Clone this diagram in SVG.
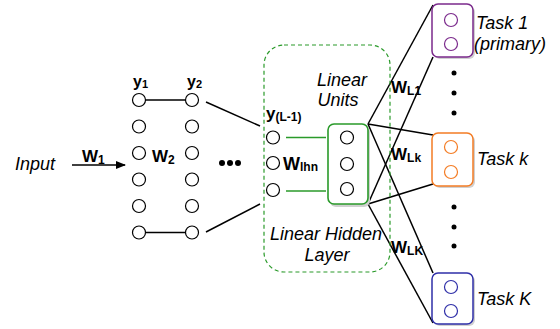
<svg xmlns="http://www.w3.org/2000/svg" width="560" height="329" viewBox="0 0 560 329">
<defs>
<style>
.n{fill:#fff;stroke:#000;stroke-width:1.2}
.c{stroke:#000;stroke-width:1.5;fill:none}
.g{stroke:#2a9a2a;stroke-width:1.6;fill:none}
.lab{font-family:"Liberation Sans",Arial,sans-serif;font-style:italic;font-size:18px;fill:#000}
.b{font-family:"Liberation Sans",Arial,sans-serif;font-weight:bold;fill:#000}
.sh{fill:#d0d0d0}
.dot{fill:#000}
</style>
<marker id="ah" markerWidth="10" markerHeight="8" refX="9" refY="4" orient="auto" markerUnits="userSpaceOnUse">
<path d="M0,0 L10,4 L0,8 Z" fill="#000"/>
</marker>
</defs>
<rect width="560" height="329" fill="#fff"/>

<g id="connectors">
<line class="c" x1="72" y1="165" x2="125" y2="165" marker-end="url(#ah)"/>
<line class="c" x1="146" y1="100" x2="185" y2="100"/>
<line class="c" x1="146" y1="232.5" x2="185" y2="232.5"/>
<line class="c" x1="206" y1="102" x2="260" y2="126"/>
<line class="c" x1="206" y1="232" x2="260" y2="204"/>
<line class="g" x1="286" y1="137.5" x2="326" y2="137.5"/>
<line class="g" x1="286" y1="191" x2="326" y2="191"/>
<line class="c" x1="368" y1="124" x2="433" y2="5"/>
<line class="c" x1="368" y1="124" x2="433" y2="135"/>
<line class="c" x1="368" y1="124" x2="433" y2="273"/>
<line class="c" x1="368" y1="204" x2="433" y2="57"/>
<line class="c" x1="368" y1="204" x2="433" y2="184"/>
<line class="c" x1="368" y1="204" x2="433" y2="323"/>
</g>

<g id="input">
<text class="lab" x="15" y="170">Input</text>
<text class="b" x="82" y="162" font-size="17">W<tspan font-size="12" dy="2">1</tspan></text>
</g>

<g id="layer1">
<text class="b" x="133" y="87" font-size="16">y<tspan font-size="11" dy="1">1</tspan></text>
<circle class="n" cx="139" cy="100" r="6.5"/>
<circle class="n" cx="139" cy="126.5" r="6.5"/>
<circle class="n" cx="139" cy="153" r="6.5"/>
<circle class="n" cx="139" cy="179.5" r="6.5"/>
<circle class="n" cx="139" cy="206" r="6.5"/>
<circle class="n" cx="139" cy="232.5" r="6.5"/>
<text class="b" x="152" y="162" font-size="17">W<tspan font-size="12" dy="2">2</tspan></text>
</g>

<g id="layer2">
<text class="b" x="187" y="87" font-size="16">y<tspan font-size="11" dy="1">2</tspan></text>
<circle class="n" cx="192" cy="100" r="6.5"/>
<circle class="n" cx="192" cy="126.5" r="6.5"/>
<circle class="n" cx="192" cy="153" r="6.5"/>
<circle class="n" cx="192" cy="179.5" r="6.5"/>
<circle class="n" cx="192" cy="206" r="6.5"/>
<circle class="n" cx="192" cy="232.5" r="6.5"/>
<circle class="dot" cx="222" cy="163" r="3"/>
<circle class="dot" cx="230" cy="163" r="3"/>
<circle class="dot" cx="238" cy="163" r="3"/>
</g>

<g id="hidden-layer">
<rect x="264" y="45" width="126" height="227" rx="20" fill="none" stroke="#2a9a2a" stroke-width="1.2" stroke-dasharray="4,3"/>
<text class="lab" x="342" y="86" text-anchor="middle">Linear</text>
<text class="lab" x="338" y="106" text-anchor="middle">Units</text>
<text class="b" x="266" y="119" font-size="17">y<tspan font-size="12" dy="2">(L-1)</tspan></text>
<circle class="n" cx="273" cy="137.5" r="6.5"/>
<circle class="n" cx="273" cy="163" r="6.5"/>
<circle class="n" cx="273" cy="190" r="6.5"/>
<text class="b" x="283" y="170" font-size="18">W<tspan font-size="12" dy="1">lhn</tspan></text>
<text class="lab" x="326" y="240" text-anchor="middle" font-size="17.5">Linear Hidden</text>
<text class="lab" x="327" y="261" text-anchor="middle">Layer</text>
</g>

<g id="linear-units">
<rect class="sh" x="330" y="126" width="40" height="81" rx="6"/>
<rect x="328" y="124" width="40" height="80" rx="6" fill="#fff" stroke="#2a9a2a" stroke-width="1.6"/>
<circle class="n" cx="347" cy="137.5" r="6.5"/>
<circle class="n" cx="347" cy="164" r="6.5"/>
<circle class="n" cx="347" cy="189" r="6.5"/>
</g>

<g id="weights">
<text class="b" x="391" y="93" font-size="17">W<tspan font-size="12" dy="2">L1</tspan></text>
<text class="b" x="391" y="160" font-size="17">W<tspan font-size="12" dy="2">Lk</tspan></text>
<text class="b" x="391" y="253" font-size="17">W<tspan font-size="12" dy="2">LK</tspan></text>
</g>

<g id="task1">
<rect class="sh" x="434" y="6" width="41" height="53" rx="6"/>
<rect x="432" y="4" width="41" height="53" rx="6" fill="#fff" stroke="#7b2a8c" stroke-width="1.5"/>
<circle cx="451" cy="20" r="6.5" fill="#fff" stroke="#7b2a8c" stroke-width="1.2"/>
<circle cx="451" cy="44" r="6.5" fill="#fff" stroke="#7b2a8c" stroke-width="1.2"/>
<text class="lab" x="476" y="29">Task 1</text>
<text class="lab" x="474" y="50">(primary)</text>
</g>

<g id="dots-upper">
<circle class="dot" cx="454" cy="73" r="2.5"/>
<circle class="dot" cx="454" cy="93" r="2.5"/>
<circle class="dot" cx="454" cy="113" r="2.5"/>
</g>

<g id="taskk">
<rect class="sh" x="434" y="135" width="41" height="53" rx="6"/>
<rect x="432" y="133" width="41" height="53" rx="6" fill="#fff" stroke="#f47c24" stroke-width="1.5"/>
<circle cx="451" cy="147" r="6.5" fill="#fff" stroke="#f47c24" stroke-width="1.2"/>
<circle cx="451" cy="172" r="6.5" fill="#fff" stroke="#f47c24" stroke-width="1.2"/>
<text class="lab" x="477" y="165">Task k</text>
</g>

<g id="dots-lower">
<circle class="dot" cx="454" cy="207" r="2.5"/>
<circle class="dot" cx="454" cy="227" r="2.5"/>
<circle class="dot" cx="454" cy="246" r="2.5"/>
</g>

<g id="taskK">
<rect class="sh" x="434" y="275" width="41" height="51" rx="6"/>
<rect x="432" y="273" width="41" height="51" rx="6" fill="#fff" stroke="#2f2fa8" stroke-width="1.5"/>
<circle cx="451" cy="287" r="6.5" fill="#fff" stroke="#2f2fa8" stroke-width="1.2"/>
<circle cx="451" cy="311" r="6.5" fill="#fff" stroke="#2f2fa8" stroke-width="1.2"/>
<text class="lab" x="477" y="305">Task K</text>
</g>
</svg>
